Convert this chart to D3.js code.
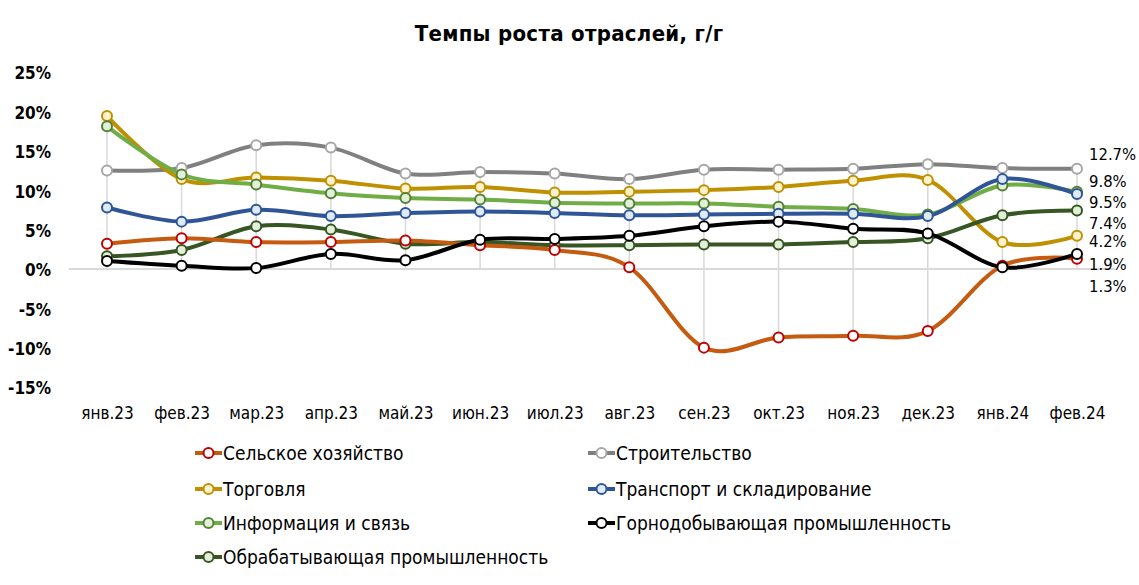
<!DOCTYPE html>
<html>
<head>
<meta charset="utf-8">
<script src="https://cdn.jsdelivr.net/npm/d3@7"></script>
<style>
  html, body { margin: 0; padding: 0; background: #fff; }
  svg { display: block; }
  text { font-family: "DejaVu Sans Condensed", "DejaVu Sans", sans-serif; fill: #000; }
</style>
</head>
<body>
<svg id="chart" width="1139" height="585"></svg>
<script>
// ---------- DATA ----------
const months = ["янв.23","фев.23","мар.23","апр.23","май.23","июн.23","июл.23","авг.23","сен.23","окт.23","ноя.23","дек.23","янв.24","фев.24"];
const yTicks = [-15, -10, -5, 0, 5, 10, 15, 20, 25];

const seriesNames = [
  "Сельское хозяйство",
  "Строительство",
  "Торговля",
  "Транспорт и складирование",
  "Информация и связь",
  "Горнодобывающая промышленность",
  "Обрабатывающая промышленность"
];

const agriculture   = [3.2, 3.9, 3.4, 3.4, 3.6, 3.0, 2.4, 0.2, -10.0, -8.7, -8.5, -7.9, 0.4, 1.3];
const construction  = [12.5, 12.8, 15.7, 15.4, 12.1, 12.3, 12.1, 11.4, 12.6, 12.6, 12.7, 13.3, 12.8, 12.7];
const trade         = [19.4, 11.4, 11.6, 11.2, 10.2, 10.4, 9.7, 9.8, 10.0, 10.4, 11.2, 11.3, 3.4, 4.2];
const transport     = [7.8, 6.0, 7.5, 6.7, 7.1, 7.3, 7.1, 6.8, 6.9, 7.0, 7.0, 6.7, 11.4, 9.5];
const infoComm      = [18.1, 12.0, 10.7, 9.6, 9.0, 8.8, 8.4, 8.3, 8.3, 7.9, 7.6, 6.9, 10.6, 9.8];
const mining        = [1.0, 0.4, 0.1, 1.9, 1.1, 3.7, 3.8, 4.2, 5.4, 6.0, 5.1, 4.5, 0.2, 1.9];
const manufacturing = [1.6, 2.4, 5.4, 5.0, 3.2, 3.4, 3.0, 3.0, 3.1, 3.1, 3.4, 3.9, 6.8, 7.4];

const seriesValues = [agriculture, construction, trade, transport, infoComm, mining, manufacturing];

// ---------- STYLE ----------
const lineColors   = ["#C55A11", "#808080", "#BF9000", "#2F5597", "#70AD47", "#000000", "#375623"];
const markerStroke = ["#C00000", "#A6A6A6", "#BF9000", "#2F5597", "#548235", "#000000", "#375623"];
const markerFill   = ["#FFFFFF", "#FFFFFF", "#FFF2CC", "#DEEBF7", "#E2F0D9", "#FFFFFF", "#E2F0D9"];
// draw order (back to front)
const drawOrder = [1, 2, 4, 3, 6, 0, 5];
// end-label vertical nudges (px) to avoid overlaps, by series index
const labelNudge = [28, -14, 6, 8, -10, 11, 13];

const svg = d3.select("#chart");

const x = d3.scalePoint().domain(months).range([107, 1077]);
const y = d3.scaleLinear().domain([-15, 25]).range([387, 72]);

// title
svg.append("text")
  .attr("x", 569).attr("y", 33)
  .attr("text-anchor", "middle").attr("dominant-baseline", "central")
  .style("font-size", "22px").style("font-weight", "bold")
  .style("letter-spacing", "0.3px")
  .text("Темпы роста отраслей, г/г");

// y axis labels
const yAxis = d3.axisLeft(y).tickValues(yTicks).tickSize(0).tickPadding(0)
  .tickFormat(d => d + "%");
const gy = svg.append("g").attr("transform", "translate(51,1.5)").call(yAxis);
gy.select(".domain").remove();
gy.selectAll("text").style("font-size", "17px")
  .style("font-family", "\"DejaVu Sans Condensed\", sans-serif")
  .style("font-weight", "600").attr("fill", "#000");

// drop lines (vertical grid from max to min incl. zero)
months.forEach((m, i) => {
  const vals = seriesValues.map(s => s[i]);
  const hi = Math.max(0, d3.max(vals)), lo = Math.min(0, d3.min(vals));
  svg.append("line")
    .attr("x1", x(m)).attr("x2", x(m))
    .attr("y1", y(hi)).attr("y2", y(lo))
    .attr("stroke", "#D9D9D9").attr("stroke-width", 1.5);
});

// zero axis line
svg.append("line")
  .attr("x1", 69).attr("x2", 1115)
  .attr("y1", y(0)).attr("y2", y(0))
  .attr("stroke", "#D9D9D9").attr("stroke-width", 2);

// x axis labels
const xAxis = d3.axisBottom(x).tickSize(0).tickPadding(0);
const gx = svg.append("g").attr("transform", "translate(0,413)").call(xAxis);
gx.select(".domain").remove();
gx.selectAll("text").attr("dy", "0.35em").style("font-size", "17px")
  .style("font-family", "\"DejaVu Sans Condensed\", sans-serif").attr("fill", "#000");

// lines
const line = d3.line()
  .x((d, i) => x(months[i]))
  .y(d => y(d))
  .curve(d3.curveCatmullRom.alpha(0));

drawOrder.forEach(si => {
  svg.append("path")
    .datum(seriesValues[si])
    .attr("d", line)
    .attr("fill", "none")
    .attr("stroke", lineColors[si])
    .attr("stroke-width", 4)
    .attr("stroke-linejoin", "round");
});
drawOrder.forEach(si => {
  svg.append("g").selectAll("circle")
    .data(seriesValues[si])
    .join("circle")
    .attr("cx", (d, i) => x(months[i]))
    .attr("cy", d => y(d))
    .attr("r", 5)
    .attr("fill", markerFill[si])
    .attr("stroke", markerStroke[si])
    .attr("stroke-width", 2);
});

// end labels
seriesValues.forEach((s, si) => {
  const v = s[s.length - 1];
  svg.append("text")
    .attr("x", 1089)
    .attr("y", y(v) + labelNudge[si])
    .attr("dominant-baseline", "central")
    .style("font-size", "16.5px")
    .text(v.toFixed(1) + "%");
});

// legend
const legendPos = [
  [195, 453], [588, 453],
  [195, 489], [588, 489],
  [195, 523], [588, 523],
  [195, 557]
];
seriesNames.forEach((name, si) => {
  const [lx, ly] = legendPos[si];
  const g = svg.append("g").attr("transform", `translate(${lx},${ly})`);
  g.append("line").attr("x1", 0).attr("x2", 27).attr("y1", 0).attr("y2", 0)
    .attr("stroke", lineColors[si]).attr("stroke-width", 4);
  g.append("circle").attr("cx", 13.5).attr("cy", 0).attr("r", 5)
    .attr("fill", markerFill[si]).attr("stroke", markerStroke[si]).attr("stroke-width", 2);
  g.append("text").attr("x", 28).attr("y", 0).attr("dominant-baseline", "central")
    .style("font-size", "19px").text(name);
});
</script>
</body>
</html>
